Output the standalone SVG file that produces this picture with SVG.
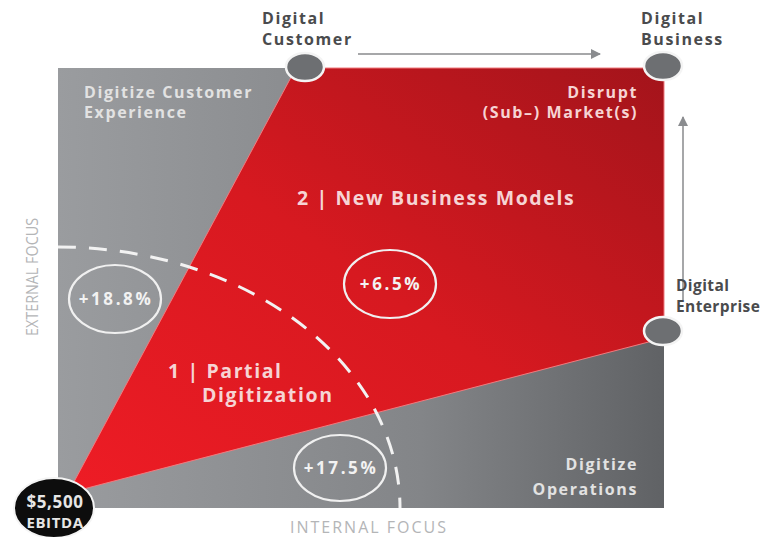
<svg xmlns="http://www.w3.org/2000/svg" width="770" height="537" viewBox="0 0 770 537">
  <defs>
    <linearGradient id="grayFill" x1="0" y1="0" x2="1" y2="0">
      <stop offset="0" stop-color="#9a9c9f"/>
      <stop offset="0.6" stop-color="#838588"/>
      <stop offset="1" stop-color="#606265"/>
    </linearGradient>
    <linearGradient id="redFill" x1="0" y1="1" x2="1" y2="0">
      <stop offset="0" stop-color="#ee1c25"/>
      <stop offset="0.5" stop-color="#d71920"/>
      <stop offset="1" stop-color="#a3141b"/>
    </linearGradient>
    <marker id="head" viewBox="0 0 10 10" refX="9" refY="5" markerWidth="10" markerHeight="10" markerUnits="userSpaceOnUse" orient="auto">
      <path d="M0,0 L10,5 L0,10 z" fill="#8a8c8f"/>
    </marker>
    <style>
      .lbl { font-family: "Open Sans", "Noto Sans", sans-serif; font-weight: bold; }
      .sm { font-size: 16px; letter-spacing: 1.6px; }
      .dark { fill: #4a4b4d; }
      .onGray { fill: #e2e2e2; }
      .onRed { fill: #f6d4d4; }
      .big { font-size: 19.5px; letter-spacing: 1.6px; }
      .pct { fill: #f2f2f2; font-size: 17px; letter-spacing: 2.6px; text-anchor: middle; }
      .ring { fill: none; stroke: #f0f0f0; stroke-width: 2.2; }
      .node { fill: #6d6f72; stroke: #f4f4f4; stroke-width: 2.5; }
      .axis { font-family: "Open Sans", "Noto Sans", sans-serif; fill: #b4b5b7; }
      .arrow { stroke: #a6a7a9; stroke-width: 2; fill: none; marker-end: url(#head); }
    </style>
  </defs>

  <rect width="770" height="537" fill="#ffffff"/>

  <!-- quadrant field -->
  <g id="field">
    <rect x="58" y="68" width="606" height="440" fill="url(#grayFill)"/>
    <polygon points="296,68 664,68 664,338 68,493" fill="url(#redFill)" stroke="#f07a7e" stroke-width="1"/>
    <!-- boundary between partial digitization and new business models -->
    <path d="M58,247 A342,261 0 0 1 400,508" fill="none" stroke="#f2f2f2" stroke-width="3" stroke-dasharray="18,13"/>
  </g>

  <!-- connectors -->
  <g id="connectors">
    <line class="arrow" x1="358" y1="54" x2="600" y2="54"/>
    <line class="arrow" x1="683" y1="300" x2="683" y2="117"/>
  </g>

  <!-- zone labels -->
  <g id="zone-customer-experience">
    <text class="lbl sm onGray" x="84" y="98">Digitize Customer</text>
    <text class="lbl sm onGray" x="84" y="118">Experience</text>
  </g>
  <g id="zone-disrupt">
    <text class="lbl sm onRed" x="638" y="98" text-anchor="end">Disrupt</text>
    <text class="lbl sm onRed" x="638" y="118" text-anchor="end">(Sub–) Market(s)</text>
  </g>
  <g id="zone-new-business-models">
    <text class="lbl big onRed" x="297" y="205">2 | New Business Models</text>
  </g>
  <g id="zone-partial-digitization">
    <text class="lbl big onRed" x="168" y="378">1 | Partial</text>
    <text class="lbl big onRed" x="202" y="402">Digitization</text>
  </g>
  <g id="zone-operations">
    <text class="lbl sm onGray" x="638" y="470" text-anchor="end">Digitize</text>
    <text class="lbl sm onGray" x="638" y="495" text-anchor="end">Operations</text>
  </g>

  <!-- growth figures -->
  <g id="pct-external">
    <ellipse class="ring" cx="115" cy="299" rx="46" ry="34"/>
    <text class="lbl pct" x="116" y="305">+18.8%</text>
  </g>
  <g id="pct-new-models">
    <ellipse class="ring" cx="390" cy="284" rx="46" ry="34"/>
    <text class="lbl pct" x="391" y="290">+6.5%</text>
  </g>
  <g id="pct-internal">
    <ellipse class="ring" cx="340" cy="468" rx="46" ry="33"/>
    <text class="lbl pct" x="341" y="474">+17.5%</text>
  </g>

  <!-- corner nodes -->
  <g id="node-digital-customer">
    <ellipse class="node" cx="305" cy="67" rx="19" ry="14"/>
    <text class="lbl sm dark" x="262" y="24">Digital</text>
    <text class="lbl sm dark" x="262" y="45">Customer</text>
  </g>
  <g id="node-digital-business">
    <ellipse class="node" cx="663" cy="66" rx="19" ry="14"/>
    <text class="lbl sm dark" x="641" y="24">Digital</text>
    <text class="lbl sm dark" x="641" y="45">Business</text>
  </g>
  <g id="node-digital-enterprise">
    <ellipse class="node" cx="663" cy="331" rx="19" ry="14"/>
    <text class="lbl dark" x="676" y="291" font-size="15.5" letter-spacing="0.4">Digital</text>
    <text class="lbl dark" x="676" y="312" font-size="15.5" letter-spacing="0.4">Enterprise</text>
  </g>
  <g id="node-ebitda">
    <ellipse cx="54" cy="508" rx="40" ry="30" fill="#0d0d0d" stroke="#f4f4f4" stroke-width="2"/>
    <text class="lbl" x="55" y="508" font-size="17" letter-spacing="0.6" fill="#e6e6e6" text-anchor="middle">$5,500</text>
    <text class="lbl" x="55" y="528" font-size="15" letter-spacing="0.6" fill="#e6e6e6" text-anchor="middle">EBITDA</text>
  </g>

  <!-- axis captions -->
  <g id="axes">
    <text class="axis" x="369" y="533" font-size="16" letter-spacing="2" text-anchor="middle">INTERNAL FOCUS</text>
    <text class="axis" transform="translate(38,277) rotate(-90)" font-size="17" text-anchor="middle" textLength="118" lengthAdjust="spacingAndGlyphs">EXTERNAL FOCUS</text>
  </g>
</svg>
